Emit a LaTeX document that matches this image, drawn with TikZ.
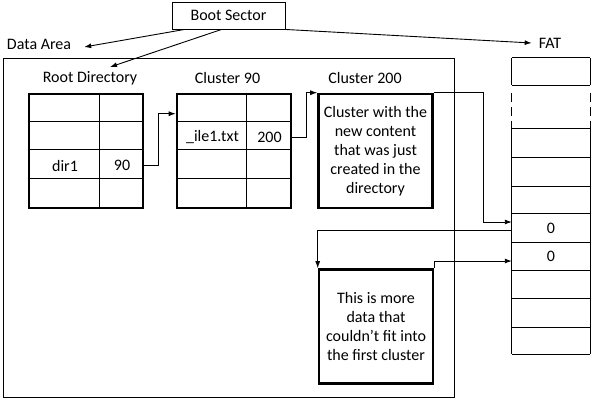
\documentclass[tikz,border=0pt]{standalone}
\usepackage{fontspec}
\setmainfont{Carlito}
\usetikzlibrary{arrows.meta}
\tikzset{
  lbl/.style={inner sep=1pt,font=\fontsize{16}{19}\selectfont},
  plainline/.style={line width=0.9pt},
  tblbox/.style={draw,line width=2.6pt,minimum width=114pt,minimum height=114pt,inner sep=0pt,align=center,font=\fontsize{16}{19}\selectfont},
  link/.style={line width=0.9pt,-{Latex[length=7pt,width=5pt]}},
}
\newcommand\DirTable[4]{
  \def\N{#1} \def\C{#4}
  \node[tblbox] (\N) at (#2,#3) {};
  \foreach \r in {1,2,3}
  {
    \draw[plainline] ([yshift=-\r*28.5pt]\N.north west) -- ([yshift=-\r*28.5pt]\N.north east);
  }
  \draw[plainline] ([xshift=\C pt]\N.north west) -- ([xshift=\C pt]\N.south west);
}
\begin{document}
\begin{tikzpicture}[x=1pt, y=-1pt]
\useasboundingbox (0,0) rectangle (593,400);
\node[draw,plainline,minimum width=113pt,minimum height=27pt,lbl] (boot) at (228.5,15.5) {Boot Sector};
\node[lbl] (darea) at (39,44) {Data Area};
\node[lbl] (fatlbl) at (550,43) {FAT};
\node[draw,plainline,minimum width=451pt,minimum height=339pt,inner sep=0pt] (area) at (228.5,227.5) {};

\node[lbl] (rootlbl) at (90,78) {Root Directory};
\node[lbl] (c90lbl) at (227.5,78) {Cluster 90};
\node[lbl] (c200lbl) at (365,78) {Cluster 200};

\DirTable{root}{86}{151}{72}
\DirTable{c90}{234}{151}{71}
\node[lbl] (dir1) at (65,165.5) {dir1};
\node[lbl] (ptr90) at (122,165.5) {90};
\node[lbl] (file1) at (212.5,137) {\_ile1.txt};
\node[lbl] (ptr200) at (269.5,137) {200};

\node[tblbox] (c200) at (375.5,151) {Cluster with the\\new content\\that was just\\created in the\\directory};
\node[tblbox] (more) at (376,326.5) {This is more\\data that\\couldn't fit into\\the first cluster};

% FAT column
\node[minimum width=78pt,minimum height=296pt,inner sep=0pt] (fat) at (551,206) {};
\draw[plainline] (fat.north west) -- (fat.north east);
\draw[plainline] (fat.south west) -- (fat.south east);
\foreach \s in {west,east}
{
  \draw[plainline] (fat.north \s) -- ([yshift=-27pt]fat.north \s);
  \draw[plainline,dash pattern=on 9pt off 5pt] ([yshift=-35pt]fat.north \s) -- ([yshift=-70pt]fat.north \s);
  \draw[plainline] ([yshift=-70pt]fat.north \s) -- (fat.south \s);
}
\foreach \y in {85,128,157,186,213,242,270,298,327}
{
  \draw[plainline] (fat.west |- 0,\y) -- (fat.east |- 0,\y);
}
\node[lbl] (z1) at (551,228) {0};
\node[lbl] (z2) at (551,256) {0};

\draw[link] ([xshift=13pt]boot.south west) -- ([xshift=12pt,yshift=-3pt]darea.east);
\draw[link] ([xshift=50pt]boot.south west) -- ([xshift=20pt,yshift=3pt]rootlbl.north);
\draw[link] (boot.south east) -- ([xshift=-6pt]fatlbl.west);

\draw[link] (ptr90 -| root.east) -- ++(14,0) |- ([yshift=-21pt]c90.north west);
\draw[link] (ptr200 -| c90.east) -- ++(14,0) |- (c200.north west);
\draw[link] (c200.north east) -- ++(50,0) |- ([yshift=6pt]z1 -| fat.west);
\draw[link] ([yshift=-2pt]z1 -| fat.west) -| (more.north west);
\draw[link] (more.north east) |- ([yshift=-5pt]z2 -| fat.west);
\end{tikzpicture}
\end{document}
